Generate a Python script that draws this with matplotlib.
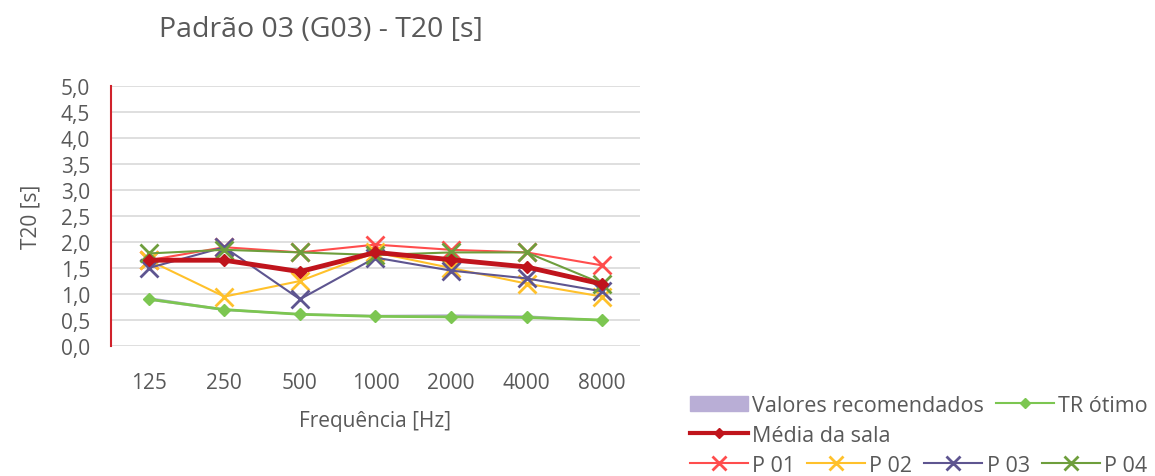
import matplotlib.pyplot as plt
from matplotlib.ticker import FuncFormatter
from matplotlib.patches import Patch
from matplotlib.lines import Line2D

plt.rcParams['font.family'] = ['Open Sans', 'DejaVu Sans']

# T20 por banda de oitava
freqs = ['125', '250', '500', '1000', '2000', '4000', '8000']
rec_low = [0.88, 0.68, 0.60, 0.57, 0.56, 0.54, 0.48]
rec_high = [0.95, 0.73, 0.64, 0.61, 0.62, 0.60, 0.52]
tr_otimo = [0.90, 0.70, 0.61, 0.57, 0.56, 0.55, 0.50]
p01 = [1.65, 1.90, 1.80, 1.95, 1.85, 1.80, 1.55]
p02 = [1.65, 0.95, 1.25, 1.80, 1.50, 1.20, 0.95]
p03 = [1.50, 1.90, 0.90, 1.70, 1.45, 1.30, 1.05]
p04 = [1.78, 1.85, 1.80, 1.75, 1.80, 1.80, 1.20]
media = [1.65, 1.65, 1.43, 1.80, 1.66, 1.52, 1.19]

grey = '#595959'
c_rec = '#B9AED6'
c_tr = '#7CC651'
c_med = '#C0141C'
c_p01 = '#FF4D4D'
c_p02 = '#FFC12B'
c_p03 = '#5E5590'
c_p04 = '#6E9E3C'

fig = plt.figure(figsize=(11.55, 4.77), dpi=100)
ax = fig.add_axes([0.0961, 0.2725, 0.458, 0.5451])

x = range(len(freqs))
ax.fill_between(x, rec_low, rec_high, color=c_rec, lw=0, zorder=2)
ax.plot(x, tr_otimo, color=c_tr, lw=2, marker='D', ms=6, zorder=3)
ax.plot(x, p01, color=c_p01, lw=1.5, marker='x', ms=13, mew=2, zorder=4)
ax.plot(x, p02, color=c_p02, lw=1.5, marker='x', ms=13, mew=2, zorder=4)
ax.plot(x, p03, color=c_p03, lw=1.5, marker='x', ms=13, mew=2, zorder=4)
ax.plot(x, p04, color=c_p04, lw=1.5, marker='x', ms=13, mew=2, zorder=4)
ax.plot(x, media, color=c_med, lw=3.5, marker='D', ms=6, zorder=5)

ax.set_xlim(-0.5, len(freqs) - 0.5)
ax.set_ylim(0, 5)
ax.set_yticks([i * 0.5 for i in range(11)])
ax.yaxis.set_major_formatter(FuncFormatter(lambda v, p: f'{v:.1f}'.replace('.', ',')))
ax.set_xticks(list(x))
ax.set_xticklabels(freqs)
ax.grid(axis='y', color='#D9D9D9', lw=1.2, zorder=0)
ax.set_axisbelow(True)
for s in ['top', 'right', 'bottom']:
    ax.spines[s].set_visible(False)
ax.spines['left'].set_color('#D0222B')
ax.spines['left'].set_linewidth(1.5)
ax.tick_params(axis='both', length=0, colors=grey, labelsize=15)
ax.tick_params(axis='x', pad=19)
ax.tick_params(axis='y', pad=15)

ax.set_xlabel('Frequência [Hz]', color=grey, fontsize=15, labelpad=12)
ax.set_ylabel('T20 [s]', color=grey, fontsize=15, labelpad=14)
fig.text(0.278, 0.937, 'Padrão 03 (G03) - T20 [s]', color=grey, fontsize=20.5,
         ha='center', va='center')

# legenda em três linhas
def xline(c):
    return Line2D([], [], color=c, lw=1.5, marker='x', ms=10, mew=2)

rows = [
    ([Patch(color=c_rec), Line2D([], [], color=c_tr, lw=1.5, marker='D', ms=5)],
     ['Valores recomendados', 'TR ótimo'], 0.126),
    ([Line2D([], [], color=c_med, lw=3, marker='D', ms=5)], ['Média da sala'], 0.063),
    ([xline(c_p01), xline(c_p02), xline(c_p03), xline(c_p04)],
     ['P 01', 'P 02', 'P 03', 'P 04'], 0.0),
]
for handles, labels, yy in rows:
    fig.legend(handles, labels, loc='lower left', bbox_to_anchor=(0.597, yy),
               ncol=len(labels), frameon=False, fontsize=15.5, labelcolor=grey,
               handlelength=2.7, handletextpad=0.2, columnspacing=0.55,
               borderpad=0, borderaxespad=0)

fig.savefig('out.png', dpi=100)
